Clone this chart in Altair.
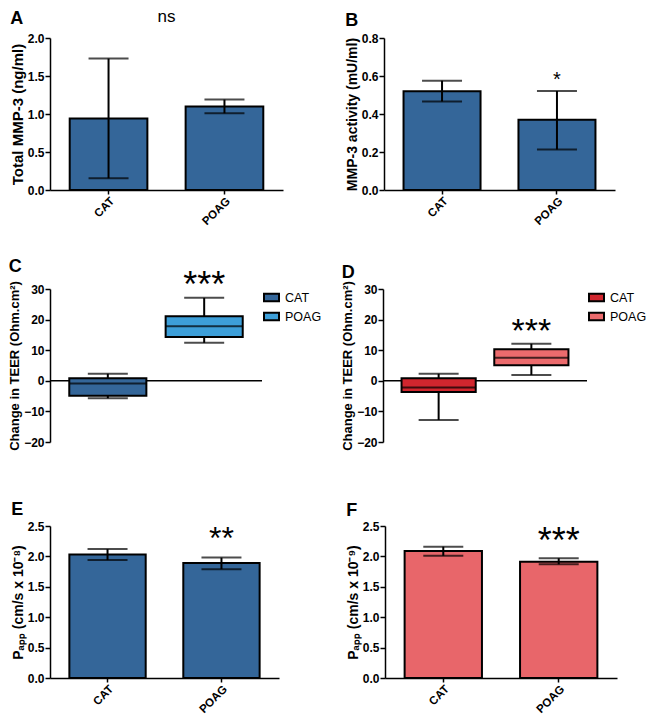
import altair as alt
import pandas as pd

FONT = "Liberation Sans"
groups = ["CAT", "POAG"]

# Panel A: Total MMP-3 (ng/ml)
a_mean = [0.94, 1.10]
a_lo = [0.155, 1.01]
a_hi = [1.73, 1.19]
a_ticks = [0.0, 0.5, 1.0, 1.5, 2.0]

# Panel B: MMP-3 activity (mU/ml)
b_mean = [0.52, 0.37]
b_lo = [0.466, 0.213]
b_hi = [0.575, 0.521]
b_ticks = [0.0, 0.2, 0.4, 0.6, 0.8]

# Panel C: change in TEER (box stats)
c_min = [-5.7, 12.4]
c_q1 = [-4.9, 14.3]
c_med = [-0.85, 17.8]
c_q3 = [0.8, 21.1]
c_max = [2.3, 27.1]

# Panel D: change in TEER (box stats)
d_min = [-12.8, 1.9]
d_q1 = [-3.7, 5.1]
d_med = [-2.2, 7.5]
d_q3 = [0.8, 10.3]
d_max = [2.3, 12.1]
teer_ticks = [-20, -10, 0, 10, 20, 30]

# Panel E: Papp (cm/s x 10^-8)
e_mean = [2.03, 1.89]
e_lo = [1.94, 1.79]
e_hi = [2.12, 1.98]

# Panel F: Papp (cm/s x 10^-9)
f_mean = [2.09, 1.91]
f_lo = [2.01, 1.87]
f_hi = [2.16, 1.97]
p_ticks = [0.0, 0.5, 1.0, 1.5, 2.0, 2.5]

# significance labels (placed above POAG; "ns" centred over panel A)
sig_labels = ["ns", "*", "***", "***", "**", "***"]
sig_values = [2.275, 0.61, 34.4, 19.0, 2.44, 2.41]
sig_sizes = [17, 20, 36, 34, 32, 36]

BLUE = "#346699"
LBLUE = "#3d9fd9"
RED = "#d1262e"
PINK = "#ec6b6d"
FPINK = "#e8666a"


def Y(field, title, ticks, fmt, tsize):
    return alt.Y(field, scale=alt.Scale(domain=[ticks[0], ticks[-1]], nice=False, zero=False),
                 axis=alt.Axis(title=title, values=ticks, format=fmt, titleFontSize=tsize))


def bar_panel(letter, toff, means, lo, hi, color, ytitle, tsize, ticks, sig, sig_y, sig_size, W, H,
              center_sig=False):
    df = pd.DataFrame({"group": groups, "mean": means, "lo": lo, "hi": hi})
    x = alt.X("group:N", sort=groups, title=None,
              scale=alt.Scale(paddingInner=0.33, paddingOuter=0.17),
              axis=alt.Axis(labelAngle=-45, labelPadding=1, labelFontSize=11.5, tickSize=4))
    base = alt.Chart(df).encode(x=x)
    bars = base.mark_bar(fill=color, stroke="black", strokeWidth=2).encode(
        y=Y("mean:Q", ytitle, ticks, ".1f", tsize))
    err = base.mark_rule(color="black", strokeWidth=2).encode(
        y=Y("lo:Q", ytitle, ticks, ".1f", tsize), y2="hi:Q")
    cap_lo = base.mark_tick(color="black", thickness=2, size=40).encode(
        y=Y("lo:Q", ytitle, ticks, ".1f", tsize))
    cap_hi = base.mark_tick(color="black", thickness=2, size=40).encode(
        y=Y("hi:Q", ytitle, ticks, ".1f", tsize))
    sdf = pd.DataFrame({"group": ["POAG"], "label": [sig], "y": [sig_y]})
    if center_sig:
        txt = alt.Chart(sdf).mark_text(font=FONT, fontSize=sig_size, baseline="middle", color="black").encode(
            x=alt.value(W / 2), y=Y("y:Q", ytitle, ticks, ".1f", tsize), text="label:N")
    else:
        txt = alt.Chart(sdf).mark_text(font=FONT, fontSize=sig_size, baseline="middle", color="black",
                                       dy=0.28 * sig_size).encode(
            x=x, y=Y("y:Q", ytitle, ticks, ".1f", tsize), text="label:N")
    return alt.layer(bars, err, cap_lo, cap_hi, txt).properties(
        width=W, height=H, title=alt.TitleParams(letter, offset=toff))


def box_panel(letter, toff, mn, q1, med, q3, mx, colors, sig, sig_y, sig_size, W, H):
    ytitle = "Change in TEER (Ohm.cm\u00b2)"
    tsize = 13
    df = pd.DataFrame({"group": groups, "mn": mn, "q1": q1, "med": med, "q3": q3, "mx": mx})
    x = alt.X("group:N", sort=groups, title=None,
              scale=alt.Scale(paddingInner=0.2, paddingOuter=0.2), axis=None)
    band = W * 0.8 / 2.2
    base = alt.Chart(df).encode(x=x)
    zero = alt.Chart(pd.DataFrame({"z": [0]})).mark_rule(color="black", strokeWidth=1.5).encode(
        y=Y("z:Q", ytitle, teer_ticks, "d", tsize))
    whisk = base.mark_rule(color="black", strokeWidth=2).encode(
        y=Y("mn:Q", ytitle, teer_ticks, "d", tsize), y2="mx:Q")
    box = base.mark_bar(stroke="black", strokeWidth=2).encode(
        y=Y("q1:Q", ytitle, teer_ticks, "d", tsize), y2="q3:Q",
        color=alt.Color("group:N", sort=groups,
                        scale=alt.Scale(domain=groups, range=colors),
                        legend=alt.Legend(title=None, orient="right", offset=1, padding=0,
                                          symbolType="M-1,-0.5H1V0.5H-1Z", symbolSize=225,
                                          symbolStrokeColor="black", symbolStrokeWidth=2,
                                          symbolOpacity=1, labelFont=FONT, labelFontSize=12.5,
                                          labelFontWeight="normal",
                                          labelColor="black", labelOffset=5, rowPadding=2)))
    medl = base.mark_tick(color="black", thickness=2, size=band).encode(
        y=Y("med:Q", ytitle, teer_ticks, "d", tsize))
    cap_lo = base.mark_tick(color="black", thickness=2, size=40).encode(
        y=Y("mn:Q", ytitle, teer_ticks, "d", tsize))
    cap_hi = base.mark_tick(color="black", thickness=2, size=40).encode(
        y=Y("mx:Q", ytitle, teer_ticks, "d", tsize))
    sdf = pd.DataFrame({"group": ["POAG"], "label": [sig], "y": [sig_y]})
    txt = alt.Chart(sdf).mark_text(font=FONT, fontSize=sig_size, baseline="middle", color="black",
                                   dy=0.28 * sig_size).encode(
        x=x, y=Y("y:Q", ytitle, teer_ticks, "d", tsize), text="label:N")
    return alt.layer(zero, whisk, box, medl, cap_lo, cap_hi, txt).properties(
        width=W, height=H, title=alt.TitleParams(letter, offset=toff))


A = bar_panel("A", -20.2, a_mean, a_lo, a_hi, BLUE, "Total MMP-3 (ng/ml)", 15, a_ticks,
              sig_labels[0], sig_values[0], sig_sizes[0], 233, 152, center_sig=True)
B = bar_panel("B", 2.3, b_mean, b_lo, b_hi, BLUE, "MMP-3 activity (mU/ml)", 14, b_ticks,
              sig_labels[1], sig_values[1], sig_sizes[1], 231, 152)
C = box_panel("C", -8.4, c_min, c_q1, c_med, c_q3, c_max, [BLUE, LBLUE],
              sig_labels[2], sig_values[2], sig_sizes[2], 212, 153)
D = box_panel("D", -1.5, d_min, d_q1, d_med, d_q3, d_max, [RED, PINK],
              sig_labels[3], sig_values[3], sig_sizes[3], 204, 153)
E = bar_panel("E", 1.1, e_mean, e_lo, e_hi, BLUE, "P\u2090\u209a\u209a (cm/s x 10\u207b\u2078)", 14, p_ticks,
              sig_labels[4], sig_values[4], sig_sizes[4], 229, 152)
F = bar_panel("F", 0.4, f_mean, f_lo, f_hi, FPINK, "P\u2090\u209a\u209a (cm/s x 10\u207b\u2079)", 14, p_ticks,
              sig_labels[5], sig_values[5], sig_sizes[5], 232, 152)

row1 = alt.hconcat(A, B, spacing=101, bounds="flush")
row2 = alt.hconcat(C, D, spacing=121, bounds="flush").resolve_scale(color="independent")
row3 = alt.hconcat(E, F, spacing=106, bounds="flush")

chart = alt.vconcat(alt.vconcat(row1, row2, spacing=30), row3, spacing=49).properties(
    padding=0
).configure_view(stroke=None).configure_axis(
    grid=False, domainColor="black", domainWidth=1.5, tickColor="black", tickWidth=1.5,
    tickSize=5, labelFont=FONT, labelFontWeight="bold", labelFontSize=12, labelColor="black",
    titleFont=FONT, titleFontWeight="bold", titleColor="black",
    labelPadding=1, titlePadding=2
).configure_title(
    font=FONT, fontSize=18, fontWeight="bold", anchor="start", frame="bounds", color="black"
)

chart.save("out.html", embed_options={"renderer": "svg", "actions": False})
